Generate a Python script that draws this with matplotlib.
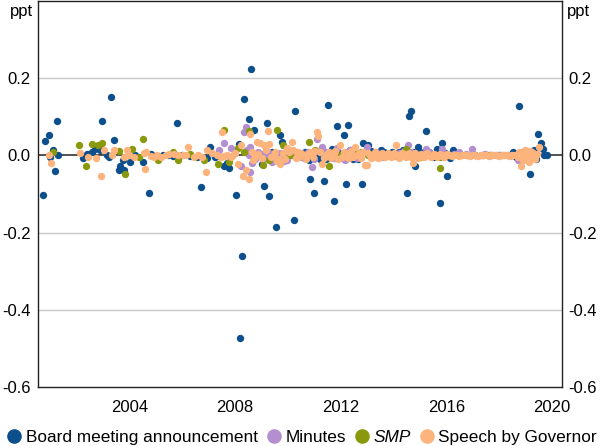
import matplotlib
matplotlib.use("Agg")
import matplotlib.pyplot as plt
from matplotlib.lines import Line2D

plt.rcParams['font.family'] = ['Liberation Sans', 'DejaVu Sans']

# ---- data: (decimal year, ppt) ----
board_x = [2000.72, 2000.80, 2000.93, 2000.99, 2001.11, 2001.18, 2001.24, 2001.30,
           2002.25, 2002.40, 2002.57, 2002.69, 2002.88, 2002.97, 2003.13, 2003.20,
           2003.30, 2003.39, 2003.58, 2003.64, 2003.73, 2003.80, 2004.02, 2004.21,
           2004.52, 2004.75, 2004.80, 2005.05, 2005.25, 2005.45, 2005.65, 2005.79,
           2006.00, 2006.30, 2006.55, 2006.70, 2006.95, 2007.06, 2007.25, 2007.59,
           2007.70, 2007.78, 2008.03, 2008.15, 2008.17, 2008.26, 2008.34, 2008.51,
           2008.60, 2008.70, 2009.02, 2009.08, 2009.21, 2009.27, 2009.55, 2009.71,
           2009.78, 2010.22, 2010.28, 2010.50, 2010.79, 2010.85, 2011.00, 2011.23,
           2011.38, 2011.52, 2011.67, 2011.76, 2011.86, 2012.11, 2012.19, 2012.26,
           2012.36, 2012.66, 2012.79, 2012.85, 2013.04, 2013.30, 2013.54, 2013.80,
           2014.10, 2014.36, 2014.52, 2014.59, 2014.68, 2014.81, 2014.93, 2015.10,
           2015.25, 2015.45, 2015.63, 2015.78, 2015.85, 2016.01, 2016.26, 2016.50,
           2016.80, 2017.10, 2017.40, 2017.70, 2018.00, 2018.30, 2018.51, 2018.76,
           2019.00, 2019.17, 2019.33, 2019.49, 2019.58, 2019.65, 2019.71, 2019.80,
           2009.40, 2009.90, 2010.05, 2010.65, 2011.10, 2011.45, 2011.95, 2012.45,
           2012.55, 2013.15, 2013.65, 2013.95, 2014.20, 2014.45, 2014.75, 2015.00,
           2015.35, 2015.55, 2015.95, 2016.15, 2016.35, 2018.65, 2018.90, 2019.05,
           2019.25, 2019.40]
board_y = [-0.102, 0.038, 0.053, -0.004, 0.013, -0.041, 0.089, 0.000,
           -0.007, 0.003, 0.009, 0.017, 0.013, 0.089, 0.000, -0.004,
           0.151, 0.041, -0.039, -0.028, -0.013, -0.037, -0.016, 0.000,
           -0.017, -0.097, 0.003, -0.003, 0.002, 0.000, -0.002, 0.084,
           0.000, -0.002, -0.004, -0.082, -0.006, 0.022, -0.003, -0.028,
           -0.020, -0.032, -0.103, 0.030, -0.473, -0.260, 0.147, 0.095,
           0.224, 0.067, -0.022, -0.078, 0.084, -0.105, -0.185, 0.052,
           0.034, -0.168, 0.116, 0.005, -0.013, -0.062, -0.097, -0.009,
           -0.066, 0.131, 0.017, -0.118, 0.076, 0.053, -0.073, 0.079,
           0.013, -0.009, -0.073, 0.032, 0.028, 0.005, 0.013, 0.003,
           0.005, 0.013, -0.097, 0.103, 0.116, -0.028, 0.022, 0.005,
           0.063, 0.003, 0.017, -0.122, 0.033, -0.054, 0.013, 0.004,
           0.002, 0.001, 0.002, 0.001, 0.002, 0.002, 0.009, 0.129,
           0.004, -0.049, 0.013, 0.056, 0.032, 0.017, 0.001, 0.000,
           0.008, -0.006, 0.010, 0.008, 0.006, -0.010, 0.006, -0.010,
           0.010, 0.012, 0.010, 0.008, 0.010, 0.012, 0.010, 0.010,
           0.010, -0.004, 0.006, -0.006, 0.005, -0.004, 0.010, -0.008,
           0.010, -0.010]

minutes_x = [2007.40, 2007.59, 2007.84, 2008.00, 2008.22, 2008.34, 2008.41, 2008.53,
             2008.55, 2008.58, 2008.75, 2008.96, 2009.15, 2009.40, 2009.60, 2009.97,
             2010.15, 2010.34, 2010.60, 2010.91, 2011.10, 2011.29, 2011.35, 2011.60,
             2011.86, 2012.05, 2012.24, 2012.49, 2012.70, 2012.98, 2013.20, 2013.50,
             2013.75, 2014.00, 2014.20, 2014.55, 2014.80, 2015.00, 2015.22, 2015.50,
             2015.82, 2016.10, 2016.49, 2016.97, 2017.30, 2017.60, 2017.90, 2018.20,
             2018.50, 2018.70, 2018.90, 2019.10, 2019.40,
             2008.45, 2008.65, 2008.85, 2009.05, 2009.25, 2009.50, 2009.75, 2009.85,
             2010.05, 2010.45, 2010.75, 2011.00, 2011.45, 2011.75, 2012.15, 2012.35,
             2012.60, 2012.85, 2013.35, 2013.60, 2014.40, 2014.65, 2015.35, 2016.30,
             2016.75, 2017.10, 2017.45, 2017.75, 2018.05, 2018.35, 2019.00, 2019.25]
minutes_y = [0.013, 0.032, 0.020, 0.005, -0.028, 0.060, 0.073, 0.000,
             -0.043, 0.022, -0.010, 0.003, -0.005, -0.017, 0.005, -0.011,
             0.000, 0.009, -0.008, -0.030, 0.043, 0.023, -0.004, 0.003,
             0.020, -0.006, 0.009, 0.004, 0.000, 0.023, 0.000, 0.002,
             0.003, -0.002, 0.005, 0.026, 0.003, -0.002, 0.017, 0.002,
             0.017, 0.000, 0.010, 0.017, 0.000, 0.001, 0.000, 0.001,
             0.002, -0.013, 0.005, -0.008, 0.004,
             0.015, -0.020, 0.008, -0.012, 0.010, -0.008, 0.006, -0.015,
             0.012, -0.004, 0.008, -0.010, 0.010, -0.008, -0.012, 0.015,
             -0.006, 0.008, 0.010, -0.004, 0.012, 0.008, 0.008, 0.004,
             0.003, 0.002, 0.003, 0.002, 0.001, 0.001, -0.010, 0.008]

smp_x = [2001.11, 2002.09, 2002.34, 2002.57, 2002.82, 2002.97, 2003.58, 2003.83,
         2004.08, 2004.36, 2004.52, 2005.06, 2005.63, 2005.82, 2006.30, 2006.80,
         2007.33, 2007.56, 2007.78, 2008.09, 2008.34, 2008.53, 2009.06, 2009.27,
         2009.59, 2009.81, 2010.09, 2010.79, 2011.04, 2011.54, 2011.85, 2012.10,
         2012.53, 2012.78, 2013.03, 2013.30, 2013.55, 2014.05, 2014.49, 2014.80,
         2015.00, 2015.50, 2015.75, 2015.78, 2016.10, 2016.60, 2017.10, 2017.60,
         2018.10, 2018.60, 2019.10]
smp_y = [0.010, 0.026, -0.028, 0.030, 0.028, 0.031, 0.011, -0.049,
         0.017, -0.003, 0.043, -0.013, 0.009, -0.011, 0.003, -0.013,
         -0.023, 0.065, -0.017, 0.020, 0.009, 0.063, -0.026, -0.011,
         0.066, 0.026, 0.000, 0.034, 0.015, -0.028, 0.002, 0.005,
         0.008, 0.008, 0.002, 0.004, 0.002, 0.001, 0.017, 0.000,
         -0.004, 0.000, -0.004, -0.032, 0.001, 0.000, 0.000, 0.000,
         0.000, 0.000, 0.000]

speech_x = [2000.95, 2001.03, 2002.12, 2002.44, 2002.72, 2002.91, 2003.01, 2003.35,
            2003.42, 2003.77, 2003.89, 2003.98, 2004.17, 2004.56, 2004.60, 2004.62,
            2004.93, 2005.19, 2005.38, 2005.70, 2006.01, 2006.22, 2006.45, 2006.89,
            2006.95, 2007.14, 2007.45, 2007.50, 2007.68, 2007.83, 2007.99, 2008.09,
            2008.22, 2008.28, 2008.41, 2008.51, 2008.55, 2008.75, 2008.83, 2008.95,
            2009.10, 2009.23, 2009.27, 2009.46, 2009.65, 2009.71, 2009.95, 2010.15,
            2010.20, 2010.40, 2010.60, 2010.75, 2011.10, 2011.13, 2011.29, 2011.48,
            2011.73, 2011.99, 2012.05, 2012.24, 2012.55, 2012.62, 2012.91, 2013.00,
            2013.10, 2013.22, 2013.35, 2013.48, 2013.60, 2013.72, 2013.85, 2013.97,
            2014.09, 2014.15, 2014.28, 2014.40, 2014.52, 2014.65, 2014.74, 2014.85,
            2014.98, 2015.10, 2015.22, 2015.35, 2015.47, 2015.60, 2015.72, 2015.85,
            2015.97, 2016.10, 2016.20, 2016.30, 2016.40, 2016.50, 2016.60, 2016.70,
            2016.80, 2016.90, 2017.00, 2017.10, 2017.20, 2017.30, 2017.40, 2017.50,
            2017.60, 2017.70, 2017.80, 2017.90, 2018.00, 2018.10, 2018.20, 2018.30,
            2018.40, 2018.50, 2018.60, 2018.70, 2018.76, 2018.83, 2018.88, 2018.92,
            2018.97, 2019.02, 2019.08, 2019.12, 2019.18, 2019.25, 2019.30, 2019.38,
            2019.45, 2019.52,
            2004.80, 2005.05, 2005.50, 2005.85, 2006.15, 2006.60, 2006.75, 2007.30,
            2007.58, 2007.90,
            2008.62, 2008.68, 2008.88, 2009.03, 2009.16, 2009.35, 2009.52, 2009.58,
            2009.80, 2009.88, 2010.05, 2010.30, 2010.35, 2010.48, 2010.68, 2010.85,
            2010.95, 2011.03, 2011.20, 2011.38, 2011.55, 2011.62, 2011.80, 2011.90,
            2012.12, 2012.18, 2012.32, 2012.40, 2012.48, 2012.70, 2012.78, 2012.85,
            2013.05, 2013.15, 2013.28, 2013.42, 2013.55, 2013.66, 2013.78, 2013.91,
            2014.03, 2014.22, 2014.34, 2014.46, 2014.58, 2014.70, 2014.80, 2014.92,
            2015.04, 2015.16, 2015.28, 2015.41, 2015.53, 2015.66, 2015.78, 2015.91,
            2016.04]
speech_y = [0.000, -0.019, 0.006, -0.003, -0.007, -0.053, 0.013, 0.000,
            0.013, -0.003, 0.013, 0.002, -0.004, 0.006, -0.034, 0.009,
            -0.004, -0.004, 0.002, 0.004, 0.000, 0.023, -0.003, -0.043,
            0.013, 0.006, -0.003, 0.060, 0.000, -0.004, 0.006, -0.022,
            0.028, -0.054, -0.037, -0.060, 0.056, -0.003, 0.034, 0.032,
            0.028, 0.063, 0.030, 0.002, -0.009, -0.023, 0.020, 0.034,
            0.013, -0.004, 0.000, 0.004, 0.060, 0.049, -0.022, 0.004,
            0.004, 0.026, -0.004, -0.004, 0.022, 0.000, -0.026, -0.026,
            0.000, -0.004, 0.002, -0.003, 0.001, -0.002, 0.003, -0.001,
            0.028, 0.002, -0.002, 0.004, 0.000, -0.003, -0.020, 0.002,
            0.000, -0.002, 0.003, 0.000, -0.002, 0.001, 0.000, -0.002,
            0.001, 0.000, -0.001, 0.001, 0.000, -0.001, 0.001, 0.000,
            0.001, -0.001, 0.000, 0.001, -0.001, 0.000, 0.001, 0.000,
            -0.001, 0.000, 0.001, 0.000, -0.001, 0.000, 0.001, 0.000,
            -0.001, 0.000, 0.002, -0.004, 0.010, -0.028, 0.005, -0.012,
            0.015, -0.006, 0.008, -0.018, 0.012, -0.003, 0.006, -0.010,
            0.004, 0.023,
            -0.002, 0.000, 0.003, 0.002, 0.002, 0.000, -0.003, 0.002,
            -0.002, 0.000,
            0.010, -0.012, 0.004, -0.008, 0.015, -0.005, 0.010, -0.015,
            0.005, -0.010, 0.008, -0.008, 0.010, 0.005, -0.010, 0.008,
            -0.005, 0.012, 0.008, -0.008, 0.010, -0.006, 0.012, -0.010,
            0.010, 0.004, -0.008, 0.012, -0.004, 0.006, -0.006, 0.010,
            0.006, -0.008, 0.008, -0.006, 0.006, -0.005, 0.006, -0.005,
            0.005, -0.006, 0.007, -0.005, 0.006, -0.004, 0.005, -0.006,
            0.004, -0.005, 0.005, -0.004, 0.004, -0.004, 0.004, -0.003,
            0.003]

yticks = [-0.6, -0.4, -0.2, 0.0, 0.2]
ytick_labels = ["-0.6", "-0.4", "-0.2", "0.0", "0.2"]
xticks = [2004, 2008, 2012, 2016, 2020]
xtick_labels = ["2004", "2008", "2012", "2016", "2020"]

c_board = "#0c4f8c"
c_min = "#b48fcf"
c_smp = "#8a990c"
c_speech = "#fdb37c"

fig = plt.figure(figsize=(6.0, 4.46), dpi=100)
ax = fig.add_axes([0.063, 0.132, 0.873, 0.866])

for yv in [0.2, -0.2, -0.4]:
    ax.axhline(yv, color="#c8c8c8", lw=1.0, zorder=0)
ax.axhline(0.0, color="#333333", lw=1.2, zorder=0.5)

ms = 28
ax.scatter(board_x, board_y, s=ms, color=c_board, lw=0, zorder=2)
ax.scatter(minutes_x, minutes_y, s=ms, color=c_min, lw=0, zorder=3)
ax.scatter(smp_x, smp_y, s=ms, color=c_smp, lw=0, zorder=4)
ax.scatter(speech_x, speech_y, s=ms, color=c_speech, lw=0, zorder=5)

ax.set_xlim(2000.52, 2020.37)
ax.set_ylim(-0.6, 0.4)
ax.set_yticks(yticks)
ax.set_yticklabels(ytick_labels)
ax.set_xticks(xticks)
ax.set_xticklabels(xtick_labels)
ax.tick_params(axis="both", length=0, labelsize=12, colors="black")
ax.tick_params(axis="y", labelright=True, right=False, pad=5)
ax.tick_params(axis="x", pad=9)
for sp in ax.spines.values():
    sp.set_color("#222222")
    sp.set_linewidth(1.0)

fig.text(0.055, 0.975, "ppt", ha="right", va="center", fontsize=12)
fig.text(0.945, 0.975, "ppt", ha="left", va="center", fontsize=12)

handles = [
    Line2D([], [], marker="o", ls="", color=c_board, markersize=9.5, label="Board meeting announcement"),
    Line2D([], [], marker="o", ls="", color=c_min, markersize=9.5, label="Minutes"),
    Line2D([], [], marker="o", ls="", color=c_smp, markersize=9.5, label="SMP"),
    Line2D([], [], marker="o", ls="", color=c_speech, markersize=9.5, label="Speech by Governor"),
]
leg = fig.legend(handles=handles, loc="lower center", bbox_to_anchor=(0.5, -0.022), ncol=4,
                 frameon=False, fontsize=12.4, handletextpad=0.0, columnspacing=0.3,
                 handlelength=1.3, borderaxespad=0.2)
leg.get_texts()[2].set_fontstyle("italic")

fig.savefig("out.png", dpi=100)
